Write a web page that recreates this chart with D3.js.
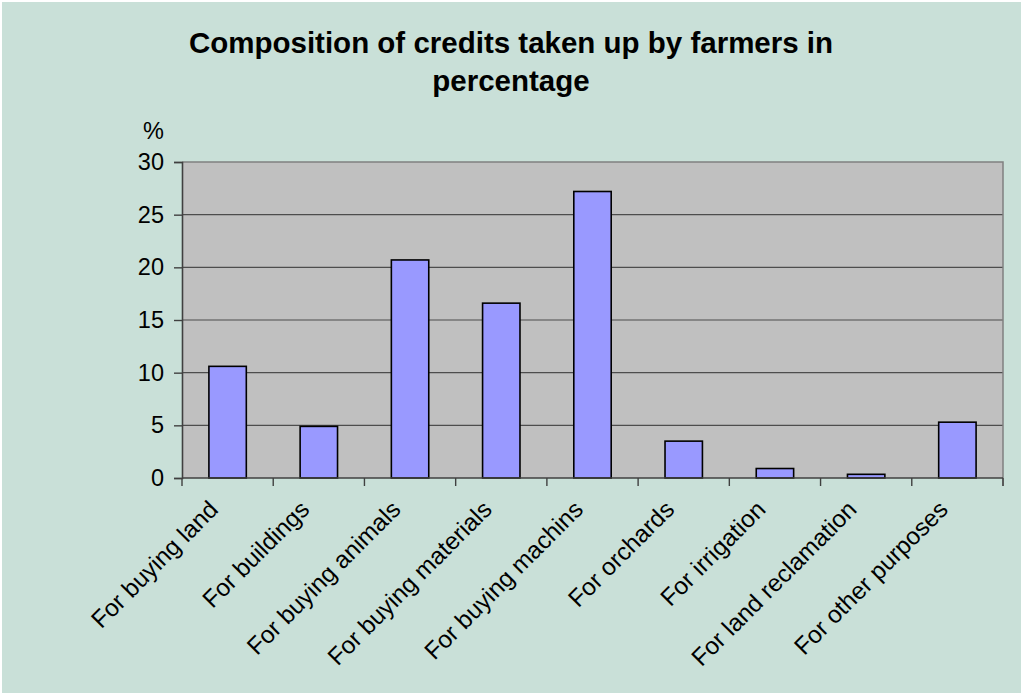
<!DOCTYPE html>
<html>
<head>
<meta charset="utf-8">
<script src="https://cdn.jsdelivr.net/npm/d3@7/dist/d3.min.js"></script>
<style>
  html, body { margin: 0; padding: 0; background: #ffffff; }
  svg { display: block; }
  text { font-family: "Liberation Sans", Arial, sans-serif; fill: #000; }
</style>
</head>
<body>
<svg id="chart" width="1021" height="695"></svg>
<script>
// Share of farm credits by purpose (%)
const categories = [
  "For buying land", "For buildings", "For buying animals", "For buying materials",
  "For buying machins", "For orchards", "For irrigation", "For land reclamation",
  "For other purposes"
];
const values = [10.6, 4.9, 20.7, 16.6, 27.2, 3.5, 0.9, 0.35, 5.3];
const yTicks = [0, 5, 10, 15, 20, 25, 30];
const titleLines = ["Composition of credits taken up by farmers in", "percentage"];
const unitLabel = "%";

const W = 1021, H = 695;
const plot = { left: 182, right: 1003, top: 162, bottom: 478 };

const svg = d3.select("#chart");

// chart area background
svg.append("rect")
  .attr("x", 2).attr("y", 2)
  .attr("width", W - 2).attr("height", H - 4)
  .attr("fill", "#c9e0d8");

const x = d3.scaleBand()
  .domain(categories)
  .range([plot.left, plot.right])
  .paddingInner(0.59)
  .paddingOuter(0.295);

const y = d3.scaleLinear()
  .domain([0, 30])
  .range([plot.bottom, plot.top]);

// plot background
svg.append("rect")
  .attr("x", plot.left).attr("y", plot.top)
  .attr("width", plot.right - plot.left)
  .attr("height", plot.bottom - plot.top)
  .attr("fill", "#c0c0c0");

// horizontal gridlines
svg.append("g")
  .selectAll("line")
  .data(yTicks.filter(d => d > 0 && d < 30))
  .join("line")
  .attr("x1", plot.left).attr("x2", plot.right)
  .attr("y1", d => y(d)).attr("y2", d => y(d))
  .attr("stroke", "#4d4d4d")
  .attr("stroke-width", 1.2);

// top and right border
svg.append("path")
  .attr("d", `M${plot.left},${plot.top}H${plot.right}V${plot.bottom + 8}`)
  .attr("fill", "none")
  .attr("stroke", "#808080")
  .attr("stroke-width", 1.5);

// bars
svg.append("g")
  .selectAll("rect")
  .data(values)
  .join("rect")
  .attr("x", (d, i) => x(categories[i]))
  .attr("y", d => y(d))
  .attr("width", x.bandwidth())
  .attr("height", d => y(0) - y(d))
  .attr("fill", "#9999ff")
  .attr("stroke", "#000")
  .attr("stroke-width", 1.6);

// y axis
const yAxis = d3.axisLeft(y)
  .tickValues(yTicks)
  .tickSize(8)
  .tickPadding(10)
  .tickFormat(d3.format("d"));
const gy = svg.append("g")
  .attr("transform", `translate(${plot.left},0)`)
  .call(yAxis);
gy.select(".domain").attr("stroke", "#404040").attr("stroke-width", 1.6);
gy.selectAll(".tick line").attr("stroke", "#404040").attr("stroke-width", 1.4);
gy.selectAll(".tick text")
  .attr("font-size", 23.5)
  .attr("font-family", "Liberation Sans, Arial, sans-serif")
  .attr("fill", "#000");

// x axis: ticks sit at the band boundaries
const boundaries = categories.map(c => x(c) - x.step() * x.paddingInner() / 2);
boundaries.push(plot.right);
const gx = svg.append("g");
gx.append("line")
  .attr("x1", plot.left).attr("x2", plot.right)
  .attr("y1", plot.bottom).attr("y2", plot.bottom)
  .attr("stroke", "#404040").attr("stroke-width", 1.6);
gx.selectAll("line.tk")
  .data(boundaries)
  .join("line")
  .attr("class", "tk")
  .attr("x1", d => d).attr("x2", d => d)
  .attr("y1", plot.bottom).attr("y2", plot.bottom + 8)
  .attr("stroke", "#404040").attr("stroke-width", 1.4);

// rotated category labels
gx.selectAll("text")
  .data(categories)
  .join("text")
  .attr("transform", d => `translate(${x(d) + x.bandwidth() / 2 - 8},${plot.bottom + 33}) rotate(-45)`)
  .attr("text-anchor", "end")
  .attr("font-size", 24.3)
  .text(d => d);

// unit label
svg.append("text")
  .attr("x", 164).attr("y", 139)
  .attr("text-anchor", "end")
  .attr("font-size", 23.5)
  .text(unitLabel);

// title
svg.append("g")
  .selectAll("text")
  .data(titleLines)
  .join("text")
  .attr("x", 511)
  .attr("y", (d, i) => 53 + i * 38)
  .attr("text-anchor", "middle")
  .attr("font-size", 29.5)
  .attr("font-weight", "bold")
  .text(d => d);
</script>
</body>
</html>
